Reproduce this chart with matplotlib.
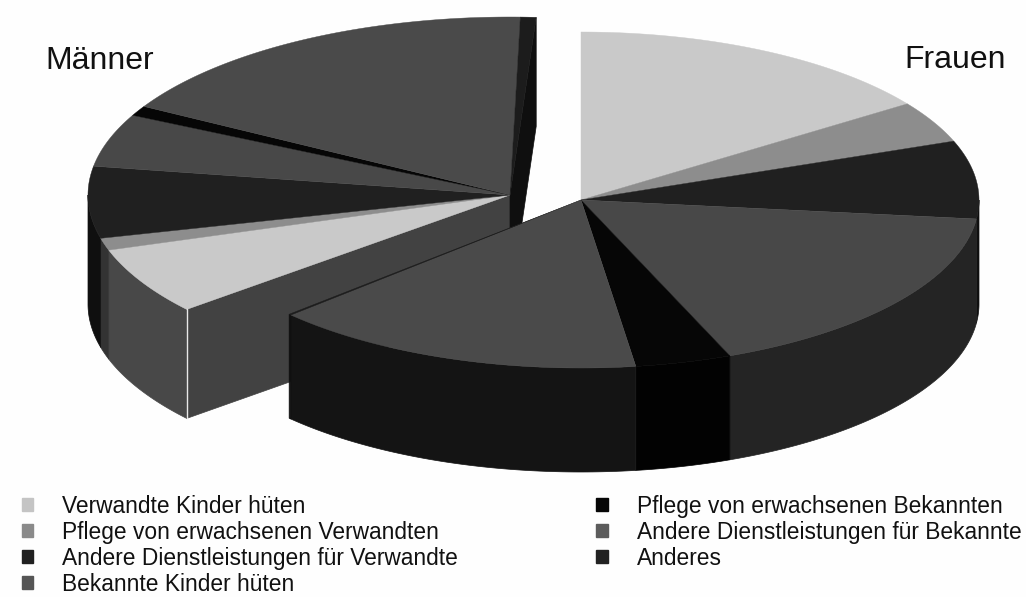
import numpy as np
import matplotlib
matplotlib.use('Agg')
from matplotlib import pyplot as plt
from matplotlib.patches import Patch

plt.rcParams['font.family'] = ['Liberation Sans', 'DejaVu Sans']

labels = ['Verwandte Kinder hüten', 'Pflege von erwachsenen Verwandten',
          'Andere Dienstleistungen für Verwandte', 'Bekannte Kinder hüten',
          'Pflege von erwachsenen Bekannten', 'Andere Dienstleistungen für Bekannte',
          'Anderes']
# percent of the whole pie
frauen = [15.3, 4.0, 7.5, 17.1, 3.9, 15.2, 0.1]
maenner = [6.1, 1.1, 6.5, 4.8, 0.9, 17.1, 0.6]

top_colors = ['#c9c9c9', '#8d8d8d', '#202020', '#484848', '#060606', '#4a4a4a', '#1c1c1c']
side_colors = ['#484848', '#333333', '#0f0f0f', '#242424', '#020202', '#141414', '#0f0f0f']
legend_colors = ['#c4c4c4', '#8a8a8a', '#202020', '#555555', '#060606', '#5c5c5c', '#222222']


def project(cx, cy, rx, ry, deg):
    a = np.radians(deg)
    return cx + rx * np.sin(a), cy - ry * np.cos(a)


def draw_pie(ax, values, start, cx, cy, rx, ry, depth, faces=False):
    edges = start + np.cumsum([0] + values) * 3.6
    # outer wall, only the front half can be seen
    for i in range(len(values)):
        a0, a1 = max(edges[i], 90), min(edges[i + 1], 270)
        if a1 <= a0:
            continue
        t = np.linspace(a0, a1, 80)
        x, y = project(cx, cy, rx, ry, t)
        ax.fill(np.r_[x, x[::-1]], np.r_[y, y[::-1] + depth],
                fc=side_colors[i], ec=side_colors[i], lw=0.5)
    if faces:
        # the two cut faces of the wedge
        x0, y0 = project(cx, cy, rx, ry, edges[0])
        ax.fill([cx, x0, x0, cx], [cy, y0, y0 + depth, cy + depth],
                fc='#424242', ec='#424242', lw=0.5)
        x1, y1 = project(cx, cy, rx, ry, edges[-1])
        ax.fill([cx, x1, x1, cx], [cy, y1, y1 + depth, cy + depth],
                fc='#0f0f0f', ec='#0f0f0f', lw=0.5)
        ax.plot([x0, x0], [y0, y0 + depth], color='#e8e8e8', lw=1)
    # top
    for i in range(len(values)):
        t = np.linspace(edges[i], edges[i + 1], 80)
        x, y = project(cx, cy, rx, ry, t)
        ax.fill(np.r_[cx, x], np.r_[cy, y],
                fc=top_colors[i], ec=top_colors[i], lw=0.3)


fig = plt.figure(figsize=(10.26, 5.97), dpi=100, facecolor='#fefefe')
ax = fig.add_axes([0, 0, 1, 1])
ax.set_xlim(0, 1026)
ax.set_ylim(597, 0)
ax.axis('off')

draw_pie(ax, maenner, 230, 510, 195, 422, 178, 109, faces=True)
draw_pie(ax, frauen, 0, 581, 200, 398, 168, 104)

ax.text(45, 61, 'Männer', fontsize=23, va='center', ha='left', color='#111111')
ax.text(1006, 60, 'Frauen', fontsize=23, va='center', ha='right', color='#111111')

handles = [Patch(fc=c, ec=c) for c in legend_colors]
ax.legend(handles, labels, ncol=2, frameon=False, fontsize=16.4, labelcolor='#111111',
          loc='lower left', bbox_to_anchor=(0.0214, 0.002),
          handlelength=0.5, handleheight=0.5, handletextpad=1.27,
          labelspacing=0.13, columnspacing=6.07, borderpad=0, borderaxespad=0)

plt.savefig('out.png', dpi=100, facecolor=fig.get_facecolor())
